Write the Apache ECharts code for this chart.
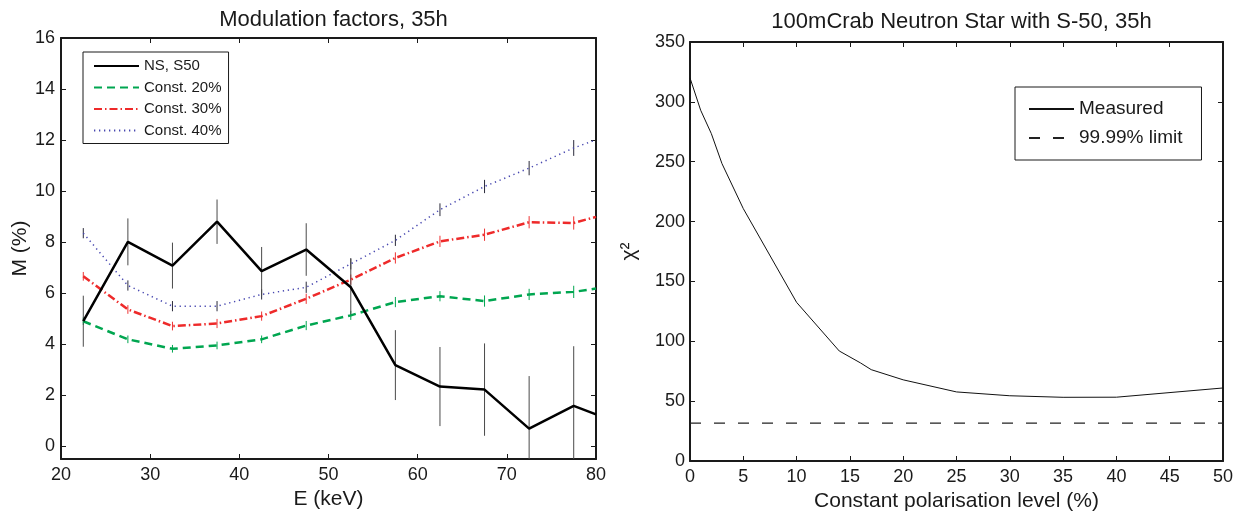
<!DOCTYPE html>
<html>
<head>
<meta charset="utf-8">
<title>Modulation factors and polarisation fit</title>
<script src="https://cdn.jsdelivr.net/npm/echarts@6/dist/echarts.min.js"></script>
<style>
  html, body { margin: 0; padding: 0; background: #fff; }
  #chart { width: 1236px; height: 512px; }
</style>
</head>
<body>
<div id="chart"></div>
<script>
// ---- Left panel: modulation factor vs energy ----
const energy = [22.5, 27.5, 32.5, 37.5, 42.5, 47.5, 52.5, 57.5, 62.5, 67.5, 72.5, 77.5, 80];
const ns50 = [4.9, 8.01, 7.08, 8.80, 6.86, 7.71, 6.23, 3.18, 2.34, 2.22, 0.69, 1.58, 1.25];
const ns50Err = [1.0, 0.92, 0.9, 0.87, 0.95, 1.03, 1.12, 1.37, 1.55, 1.81, 2.06, 2.34, null];
const const20 = [4.9, 4.19, 3.82, 3.95, 4.19, 4.73, 5.13, 5.65, 5.88, 5.69, 5.95, 6.05, 6.18];
const const20Err = [0.15, 0.15, 0.15, 0.15, 0.15, 0.18, 0.18, 0.2, 0.2, 0.22, 0.22, 0.24, null];
const const30 = [6.66, 5.36, 4.71, 4.81, 5.1, 5.78, 6.53, 7.38, 8.03, 8.29, 8.78, 8.75, 8.99];
const const30Err = [0.17, 0.17, 0.17, 0.18, 0.18, 0.2, 0.2, 0.22, 0.22, 0.24, 0.24, 0.26, null];
const const40 = [8.35, 6.3, 5.49, 5.49, 5.95, 6.23, 7.15, 8.07, 9.27, 10.18, 10.9, 11.69, 12.01];
const const40Err = [0.2, 0.2, 0.2, 0.2, 0.2, 0.22, 0.22, 0.22, 0.25, 0.26, 0.28, 0.31, null];
const leftYTicks = [0, 2, 4, 6, 8, 10, 12, 14, 16];

// ---- Right panel: chi-square vs constant polarisation level ----
const polLevel = [0, 1, 2, 3, 5, 10, 14, 16, 17, 20, 25, 30, 35, 40, 50];
const chi2 = [320, 293, 273.5, 248.4, 210.8, 132.5, 91.9, 81.9, 76.3, 67.8, 57.7, 54.5, 53.2, 53.3, 61];
const limit9999 = 31.7;

const FONT = '"Liberation Sans", Arial, Helvetica, sans-serif';
const INK = '#1a1a1a';

function pairs(xs, ys) {
  return xs.map((x, i) => [x, ys[i]]);
}
function errData(xs, ys, es) {
  const out = [];
  xs.forEach((x, i) => {
    if (es[i] != null) out.push([x, ys[i] - es[i], ys[i] + es[i]]);
  });
  return out;
}
// vertical error bar, trimmed to the plotting area
function errorBars(color) {
  return function (params, api) {
    const x = api.value(0);
    const top = api.coord([x, api.value(2)]);
    const bot = api.coord([x, api.value(1)]);
    const cs = params.coordSys;
    const y1 = Math.max(top[1], cs.y);
    const y2 = Math.min(bot[1], cs.y + cs.height);
    return {
      type: 'line',
      shape: { x1: top[0], y1: y1, x2: top[0], y2: y2 },
      style: { stroke: color, lineWidth: 1 }
    };
  };
}

// Box-style axes: labelled bottom/left, mirrored top/right with inward ticks
function boxX(gridIndex, min, max, interval, position, showLabels, extra) {
  return Object.assign({
    type: 'value', gridIndex, min, max, interval, position,
    axisLine: { show: true, onZero: false, lineStyle: { color: INK, width: 2 } },
    axisTick: { show: true, inside: true, length: 5, lineStyle: { color: INK, width: 1 } },
    axisLabel: { show: showLabels, color: INK, fontSize: 18, fontFamily: FONT, margin: 7 },
    splitLine: { show: false }
  }, extra || {});
}

const leftYAxis = (position, showLabels) => ({
  type: 'value', gridIndex: 0, min: -0.5, max: 16, position,
  axisLine: { show: true, onZero: false, lineStyle: { color: INK, width: 2 } },
  axisTick: { show: true, inside: true, length: 5, customValues: leftYTicks, lineStyle: { color: INK, width: 1 } },
  axisLabel: { show: showLabels, customValues: leftYTicks, color: INK, fontSize: 18, fontFamily: FONT, margin: 6 },
  splitLine: { show: false },
  name: showLabels ? 'M (%)' : '',
  nameLocation: 'middle', nameGap: 26, nameRotate: 90,
  nameTextStyle: { fontSize: 21, fontFamily: FONT, color: INK }
});

const chart = echarts.init(document.getElementById('chart'), null, { renderer: 'canvas' });

const option = {
  backgroundColor: '#ffffff',
  animation: false,
  title: [
    { text: 'Modulation factors, 35h', left: 328.5, top: 4, textAlign: 'center',
      textStyle: { fontSize: 22, fontWeight: 'normal', fontFamily: FONT, color: INK } },
    { text: '100mCrab Neutron Star with S-50, 35h', left: 956.5, top: 6, textAlign: 'center',
      textStyle: { fontSize: 22, fontWeight: 'normal', fontFamily: FONT, color: INK } }
  ],
  grid: [
    { left: 61, top: 38, width: 535, height: 421, outerBoundsMode: 'none' },
    { left: 690, top: 42, width: 533, height: 419, outerBoundsMode: 'none' }
  ],
  legend: [
    {
      data: ['NS, S50', 'Const. 20%', 'Const. 30%', 'Const. 40%'],
      orient: 'vertical', left: 83, top: 52,
      backgroundColor: '#fff', borderColor: INK, borderWidth: 1,
      padding: [6, 7, 5, 10], itemWidth: 45, itemHeight: 14, itemGap: 5.5,
      itemStyle: { opacity: 0 },
      textStyle: { fontSize: 15, fontFamily: FONT, color: INK, lineHeight: 16 },
      selectedMode: false
    },
    {
      data: ['Measured', '99.99% limit'],
      orient: 'vertical', left: 1015, top: 87,
      backgroundColor: '#fff', borderColor: INK, borderWidth: 1,
      padding: [12, 19, 12, 13], itemWidth: 45, itemHeight: 18, itemGap: 9,
      itemStyle: { opacity: 0 },
      textStyle: { fontSize: 19, fontFamily: FONT, color: INK, lineHeight: 20 },
      selectedMode: false
    }
  ],
  xAxis: [
    boxX(0, 20, 80, 10, 'bottom', true, {
      name: 'E (keV)', nameLocation: 'middle', nameGap: 24,
      nameTextStyle: { fontSize: 21, fontFamily: FONT, color: INK }
    }),
    boxX(0, 20, 80, 10, 'top', false),
    boxX(1, 0, 50, 5, 'bottom', true, {
      name: 'Constant polarisation level (%)', nameLocation: 'middle', nameGap: 28,
      nameTextStyle: { fontSize: 21, fontFamily: FONT, color: INK }
    }),
    boxX(1, 0, 50, 5, 'top', false)
  ],
  yAxis: [
    leftYAxis('left', true),
    leftYAxis('right', false),
    {
      type: 'value', gridIndex: 1, min: 0, max: 350, interval: 50, position: 'left',
      axisLine: { show: true, onZero: false, lineStyle: { color: INK, width: 2 } },
      axisTick: { show: true, inside: true, length: 5, lineStyle: { color: INK, width: 1 } },
      axisLabel: { color: INK, fontSize: 18, fontFamily: FONT, margin: 5 },
      splitLine: { show: false },
      name: 'χ²', nameLocation: 'middle', nameGap: 50, nameRotate: 90,
      nameTextStyle: { fontSize: 21, fontFamily: FONT, color: INK }
    },
    {
      type: 'value', gridIndex: 1, min: 0, max: 350, interval: 50, position: 'right',
      axisLine: { show: true, onZero: false, lineStyle: { color: INK, width: 2 } },
      axisTick: { show: true, inside: true, length: 5, lineStyle: { color: INK, width: 1 } },
      axisLabel: { show: false },
      splitLine: { show: false }
    }
  ],
  series: [
    // error bars
    { type: 'custom', name: 'err40', xAxisIndex: 0, yAxisIndex: 0, renderItem: errorBars('#2a2a3a'),
      data: errData(energy, const40, const40Err), z: 3, silent: true },
    { type: 'custom', name: 'err30', xAxisIndex: 0, yAxisIndex: 0, renderItem: errorBars('#ee3333'),
      data: errData(energy, const30, const30Err), z: 3, silent: true },
    { type: 'custom', name: 'err20', xAxisIndex: 0, yAxisIndex: 0, renderItem: errorBars('#00a650'),
      data: errData(energy, const20, const20Err), z: 3, silent: true },
    { type: 'custom', name: 'errNS', xAxisIndex: 0, yAxisIndex: 0, renderItem: errorBars('#4a4a4a'),
      data: errData(energy, ns50, ns50Err), z: 3, silent: true },
    // model curves and measurement
    { type: 'line', name: 'Const. 40%', xAxisIndex: 0, yAxisIndex: 0, data: pairs(energy, const40),
      symbol: 'none', lineStyle: { color: '#4848b0', width: 1.5, type: [1.3, 3.7] },
      itemStyle: { color: '#4848b0' }, z: 4 },
    { type: 'line', name: 'Const. 30%', xAxisIndex: 0, yAxisIndex: 0, data: pairs(energy, const30),
      symbol: 'none', lineStyle: { color: '#ee2a2a', width: 2.5, type: [8, 3, 1.5, 3] },
      itemStyle: { color: '#ee2a2a' }, z: 4 },
    { type: 'line', name: 'Const. 20%', xAxisIndex: 0, yAxisIndex: 0, data: pairs(energy, const20),
      symbol: 'none', lineStyle: { color: '#00a650', width: 2.5, type: [8, 5] },
      itemStyle: { color: '#00a650' }, z: 4 },
    { type: 'line', name: 'NS, S50', xAxisIndex: 0, yAxisIndex: 0, data: pairs(energy, ns50),
      symbol: 'none', lineStyle: { color: '#000000', width: 2.5 },
      itemStyle: { color: '#000000' }, z: 5 },
    // right panel
    { type: 'line', name: 'Measured', xAxisIndex: 2, yAxisIndex: 2, data: pairs(polLevel, chi2),
      symbol: 'none', lineStyle: { color: '#111111', width: 1 }, itemStyle: { color: '#111111' } },
    { type: 'line', name: '99.99% limit', xAxisIndex: 2, yAxisIndex: 2,
      data: [[polLevel[0], limit9999], [polLevel[polLevel.length - 1], limit9999]],
      symbol: 'none', lineStyle: { color: '#222222', width: 1.2, type: [11, 13] },
      itemStyle: { color: '#222222' } }
  ]
};

chart.setOption(option);
</script>
</body>
</html>
